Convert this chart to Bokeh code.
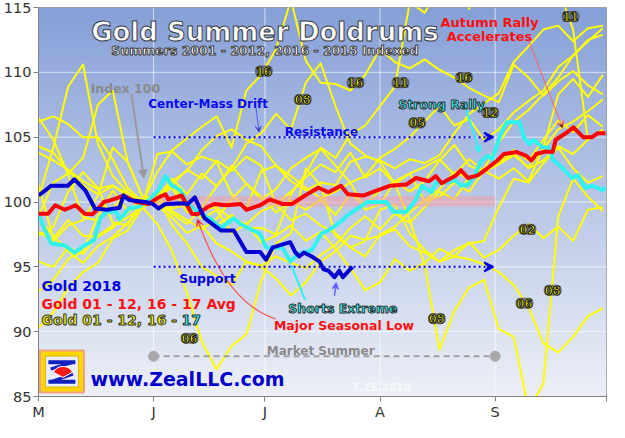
import numpy as np
from bokeh.plotting import figure
from bokeh.models import FixedTicker, Label, Arrow, VeeHead, NormalHead
from bokeh.embed import file_html
from bokeh.resources import INLINE

FONT = "DejaVu Sans"

# ---- axes (x = calendar days since May 1) ----
month_ticks = [0, 31, 61, 92, 123, 153]
month_labels = ["M", "J", "J", "A", "S", ""]
y_ticks = [85, 90, 95, 100, 105, 110, 115]
grid_x = [31, 61, 92, 123]
grid_y = [90, 95, 100, 105, 110]

# ---- yellow: individual summers, sampled every 4 days ----
yx = [0, 4, 8, 12, 16, 20, 24, 28, 32, 36, 40, 44, 48, 52, 56, 60, 64, 68, 72, 76,
      80, 84, 88, 92, 96, 100, 104, 108, 112, 116, 120, 124, 128, 132, 136, 140, 144, 148, 152]
y01 = [98.9, 101.5, 102.2, 103.4, 107.5, 108.6, 103.1, 100.4, 100.3, 101.8, 100.6, 102.2, 101.2, 102.8, 101.4, 100.4, 99.2, 100.1, 99.4, 100.2,
       99.0, 100.6, 99.8, 100.9, 101.6, 102.2, 102.7, 103.3, 102.1, 103.3, 102.4, 101.8, 102.6, 101.6, 104.2, 108.3, 109.5, 108.1, 109.8]
y02 = [95.4, 95.0, 96.5, 96.0, 97.4, 98.2, 98.8, 99.6, 100.2, 101.3, 99.8, 98.7, 99.4, 97.6, 98.3, 96.9, 97.4, 98.2, 97.0, 97.7,
       96.4, 94.9, 93.2, 93.8, 95.6, 94.7, 95.3, 96.4, 95.8, 96.9, 95.7, 96.3, 97.4, 98.3, 97.2, 98.1, 97.0, 99.4, 99.6]
y03 = [93.1, 94.0, 95.6, 96.2, 98.9, 100.9, 99.3, 100.2, 99.7, 98.8, 97.6, 98.2, 96.8, 96.2, 95.4, 95.1, 95.8, 95.3, 94.9, 95.9,
       96.7, 98.0, 98.9, 97.9, 99.1, 98.4, 99.6, 100.8, 100.2, 101.9, 102.6, 103.1, 104.0, 103.2, 104.8, 106.3, 105.4, 106.7, 105.8]
y04 = [98.7, 97.4, 96.2, 95.3, 96.6, 97.3, 98.4, 99.6, 100.1, 99.3, 98.6, 97.9, 98.7, 100.2, 101.4, 100.2, 101.0, 102.6, 103.4, 104.1,
       102.8, 101.5, 99.4, 99.8, 101.6, 100.8, 101.6, 103.2, 104.4, 102.8, 102.3, 102.9, 103.8, 102.6, 103.2, 104.3, 103.7, 104.8, 105.6]
y05 = [104.3, 103.8, 102.4, 101.3, 100.6, 101.2, 100.7, 100.2, 100.1, 101.6, 102.4, 104.0, 105.1, 105.6, 104.8, 104.3, 102.8, 102.0, 101.1, 100.3,
       100.8, 101.5, 102.0, 103.4, 104.1, 105.0, 106.2, 107.4, 105.9, 106.4, 104.8, 105.6, 106.9, 107.8, 108.6, 110.4, 111.3, 112.5, 112.9]
y06 = [100.3, 104.2, 108.9, 110.6, 104.5, 102.0, 100.8, 99.6, 98.3, 96.2, 93.0, 89.2, 87.1, 88.9, 89.8, 93.9, 96.8, 97.6, 102.6, 101.3,
       97.4, 96.5, 97.0, 99.4, 99.8, 97.6, 96.3, 95.4, 95.8, 95.6, 95.2, 94.6, 93.6, 91.9, 89.1, 88.4, 89.6, 91.2, 91.8]
y07 = [103.8, 103.2, 102.5, 101.6, 101.0, 101.3, 100.4, 100.2, 100.4, 101.1, 99.2, 99.4, 99.6, 98.7, 98.3, 99.3, 99.8, 100.8, 101.9, 102.9,
       102.3, 103.8, 101.9, 102.6, 101.4, 102.2, 100.1, 101.0, 102.3, 101.8, 102.5, 104.6, 106.2, 107.1, 108.3, 109.6, 111.3, 112.4, 113.4]
y08 = [97.7, 97.0, 98.2, 98.6, 100.5, 104.2, 103.1, 100.4, 100.0, 99.1, 98.3, 99.6, 101.2, 102.6, 104.5, 105.3, 106.8, 105.6, 109.2, 110.7,
       107.4, 104.5, 103.6, 103.1, 101.4, 98.6, 95.2, 88.6, 91.6, 93.4, 94.0, 90.2, 89.6, 84.0, 86.0, 98.9, 101.8, 100.4, 99.3]
y09 = [90.3, 91.5, 93.4, 94.6, 95.3, 97.2, 97.8, 99.6, 100.5, 98.2, 96.8, 95.0, 94.3, 93.6, 95.4, 95.0, 94.1, 92.8, 93.8, 95.4,
       96.2, 97.4, 97.1, 97.4, 97.9, 96.6, 96.1, 95.4, 96.3, 96.8, 97.0, 99.6, 101.8, 101.5, 103.0, 104.2, 102.6, 101.5, 102.0]
y10 = [97.4, 98.1, 100.8, 102.3, 101.1, 98.4, 98.2, 100.2, 100.6, 101.3, 102.5, 101.8, 103.2, 102.4, 103.5, 102.8, 99.8, 98.6, 99.1, 98.2,
       97.6, 96.5, 95.8, 97.5, 98.1, 99.2, 100.1, 100.4, 101.5, 100.8, 102.4, 102.9, 103.6, 102.7, 104.1, 105.6, 106.2, 107.0, 107.9]
y11 = [101.3, 97.2, 98.6, 97.4, 97.3, 98.0, 99.2, 100.1, 100.4, 99.5, 99.8, 99.1, 98.2, 99.0, 98.0, 98.0, 97.5, 100.6, 102.2, 104.2,
       103.4, 105.2, 105.9, 107.4, 108.9, 115.4, 114.6, 116.5, 123.0, 114.9, 119.0, 122.5, 123.6, 118.3, 117.2, 116.5, 113.3, 104.8, 105.5]
y12 = [106.5, 104.8, 102.1, 98.8, 98.6, 99.5, 100.8, 99.7, 103.7, 103.9, 102.9, 103.5, 103.1, 100.6, 99.5, 102.4, 102.8, 101.6, 100.9, 101.5,
       101.3, 103.1, 103.5, 103.2, 102.6, 103.3, 103.0, 103.6, 105.3, 106.8, 107.6, 108.4, 110.8, 112.0, 113.3, 113.6, 112.4, 113.4, 113.6]
y16 = [106.2, 106.6, 106.0, 105.0, 105.0, 103.3, 101.1, 100.0, 102.3, 104.0, 104.9, 105.8, 106.6, 104.2, 108.6, 109.8, 111.8, 115.6, 110.9, 109.2,
       109.1, 108.6, 109.8, 111.8, 110.8, 110.3, 111.0, 110.2, 109.6, 108.8, 108.2, 107.7, 110.6, 109.6, 108.2, 109.3, 110.1, 109.0, 108.3]
yellow_years = [y01, y02, y03, y04, y05, y06, y07, y08, y09, y10, y11, y12, y16]

# ---- 2017 (cyan) ----
cyan_x = [0, 1.8, 3.4, 7.1, 9.7, 12.4, 15.0, 16.6, 18.4, 21.0, 21.8, 24.4, 27.1, 29.7, 32.3, 34.2, 36.0, 38.1, 40.2, 42.8,
          46.5, 49.2, 52.6, 54.4, 57.8, 59.7, 61.3, 63.9, 65.7, 67.8, 69.7, 73.6, 76.2, 78.9, 81.5, 83.3, 86.0, 88.6, 91.2, 93.8,
          95.4, 99.1, 101.7, 103.3, 105.9, 107.0, 109.6, 112.2, 113.8, 115.7, 117.5, 119.1, 120.9, 122.2, 124.9, 126.2, 129.6, 130.7, 132.2, 133.3,
          135.9, 137.5, 138.5, 141.2, 143.8, 145.4, 147.2, 149.1, 150.6, 151.7, 152.7]
cyan_y = [99.05, 97.8, 96.8, 96.65, 96.1, 96.65, 97.05, 98.75, 99.25, 99.25, 98.65, 99.5, 99.65, 100.15, 100.9, 102.0, 101.25, 100.95, 99.85, 99.25,
          98.65, 98.0, 98.75, 98.3, 97.8, 97.55, 96.5, 96.45, 96.5, 95.4, 95.95, 96.3, 97.55, 97.95, 98.5, 99.0, 99.5, 100.0, 100.0, 100.0,
          99.25, 99.25, 100.2, 101.25, 100.75, 101.5, 101.5, 101.7, 101.25, 101.35, 102.05, 103.1, 103.55, 103.3, 105.55, 106.15, 106.15, 105.0, 104.45, 104.8,
          104.2, 104.2, 103.3, 102.6, 101.85, 102.05, 101.1, 101.25, 101.1, 100.9, 101.1]

# ---- average (red) ----
red_x = [0, 2.6, 4.5, 7.1, 10.0, 12.4, 14.5, 15.8, 17.6, 20.2, 22.9, 26.3, 29.7, 32.3, 34.2, 35.0, 38.6, 41.3, 42.8, 45.5,
         47.3, 50.7, 54.4, 56.0, 59.7, 62.3, 65.7, 68.3, 71.8, 75.4, 78.1, 81.5, 83.3, 87.5, 91.2, 94.6, 99.1, 101.7, 105.2, 107.0,
         108.6, 112.2, 113.8, 115.7, 118.3, 120.9, 123.6, 125.4, 128.8, 131.4, 132.8, 134.1, 136.7, 138.5, 139.3, 142.0, 144.1, 146.7, 149.1, 150.6, 152.7]
red_y = [99.1, 99.1, 99.75, 99.4, 99.75, 99.1, 99.05, 99.4, 100.0, 100.2, 100.5, 100.0, 99.85, 100.35, 100.6, 100.2, 100.5, 99.1, 99.05, 99.6,
         99.85, 99.75, 99.85, 99.4, 99.75, 100.2, 99.85, 99.85, 100.5, 101.1, 100.75, 101.25, 100.6, 100.5, 100.9, 101.25, 101.35, 101.85, 101.6, 102.0,
         101.45, 102.0, 102.45, 101.85, 102.05, 102.6, 103.2, 103.7, 103.85, 103.55, 103.2, 103.7, 103.9, 103.85, 104.8, 105.3, 105.75, 105.0, 105.0, 105.3, 105.3]

# ---- 2018 (blue) ----
blue_x = [0, 3.4, 7.9, 9.7, 12.6, 15.2, 18.4, 21.8, 22.9, 24.4, 28.9, 30.8, 32.3, 34.2, 38.6, 40.2, 42.1, 44.7, 49.2, 52.6,
          56.0, 59.7, 61.3, 63.1, 64.9, 67.8, 69.1, 70.2, 71.5, 73.6, 75.7, 76.8, 78.1, 79.7, 81.0, 82.0, 83.6, 84.6]
blue_y = [100.5, 101.25, 101.25, 101.75, 100.9, 99.5, 99.4, 99.55, 100.5, 100.15, 100.0, 99.85, 99.5, 99.85, 99.9, 99.85, 100.35, 98.75, 97.8, 97.8,
          96.15, 96.15, 95.55, 96.5, 96.65, 96.9, 96.15, 95.8, 96.1, 95.8, 95.4, 94.8, 94.7, 94.2, 94.7, 94.2, 94.7, 95.0]

# year tags: (day, index value, label)
year_tags = [(60.7, 110.1, "16"), (71.2, 107.9, "08"), (85.4, 109.2, "16"), (97.5, 109.2, "11"),
             (102.0, 106.1, "05"), (114.6, 109.6, "16"), (121.7, 106.9, "12"), (143.3, 114.3, "11"),
             (131.7, 97.9, "02"), (130.9, 92.2, "06"), (138.5, 93.2, "08"), (107.3, 91.0, "08"), (40.7, 89.5, "06")]

summer_start, summer_end = 31, 123

p = figure(width=609, height=422, x_range=(0, 153), y_range=(85, 115),
           output_backend="svg", toolbar_location=None,
           min_border_left=30, min_border_right=3, min_border_top=7, min_border_bottom=18,
           background_fill_color="#ffffff", border_fill_color="#ffffff")
p.outline_line_color = "#9a9a9a"
p.xgrid.grid_line_color = None
p.ygrid.grid_line_color = None

p.xaxis.ticker = FixedTicker(ticks=month_ticks, minor_ticks=[])
p.xaxis.major_label_overrides = {t: l for t, l in zip(month_ticks, month_labels)}
p.yaxis.ticker = FixedTicker(ticks=y_ticks, minor_ticks=[])
for ax in (p.xaxis[0], p.yaxis[0]):
    ax.axis_line_color = "#808080"
    ax.major_tick_line_color = "#808080"
    ax.minor_tick_line_color = None
    ax.major_tick_out = 5
    ax.major_tick_in = 0
    ax.major_label_text_font = FONT
    ax.major_label_text_font_size = "14.5px"
    ax.major_label_text_color = "#333333"
    ax.major_label_standoff = 2

# background gradient
n = 300
top = np.array([134, 160, 216], dtype=float)
bot = np.array([238, 240, 247], dtype=float)
t = np.linspace(0, 1, n)[:, None]
cols = bot * (1 - t) + top * t
img = np.empty((n, 1), dtype=np.uint32)
view = img.view(dtype=np.uint8).reshape((n, 1, 4))
view[:, 0, 0] = cols[:, 0]
view[:, 0, 1] = cols[:, 1]
view[:, 0, 2] = cols[:, 2]
view[:, 0, 3] = 255
p.image_rgba(image=[img], x=0, y=85, dw=153, dh=30)

# grid
p.segment(x0=grid_x, y0=[85] * len(grid_x), x1=grid_x, y1=[115] * len(grid_x),
          line_color="#ffffff", line_alpha=0.65, line_width=1)
p.segment(x0=[0] * len(grid_y), y0=grid_y, x1=[153] * len(grid_y), y1=grid_y,
          line_color="#ffffff", line_alpha=0.65, line_width=1)

# yellow summers
p.multi_line(xs=[yx] * len(yellow_years), ys=yellow_years, line_color="#ffff00", line_width=2, line_join="round")

# index-100 band
p.quad(left=[summer_start], right=[summer_end], bottom=[99.65], top=[100.45],
       fill_color="#f2a0a8", fill_alpha=0.55, line_color=None)

# market summer
p.line([summer_start, summer_end], [88.1, 88.1], line_color="#a0a0a0", line_width=2, line_dash="6 4")
p.scatter([summer_start, summer_end], [88.1, 88.1], size=10, color="#a8a8a8")

# support / resistance
for lvl in (105, 95):
    p.add_layout(Arrow(x_start=summer_start, y_start=lvl, x_end=summer_end - 0.5, y_end=lvl,
                       line_color="#0000ee", line_width=2, line_dash="2 3",
                       end=VeeHead(size=9, line_color="#0000ee", line_width=2)))

p.line(cyan_x, cyan_y, line_color="#30f2f2", line_width=4, line_join="round")
p.line(red_x, red_y, line_color="#ff0000", line_width=4, line_join="round")
p.line(blue_x, blue_y, line_color="#0000d0", line_width=4, line_join="round")

# annotation arrows
p.add_layout(Arrow(x_start=25.0, y_start=108.35, x_end=28.4, y_end=101.85, line_color="#9a9a9a", line_width=2,
                   end=NormalHead(size=8, fill_color="#9a9a9a", line_color="#9a9a9a")))
p.add_layout(Arrow(x_start=58.6, y_start=107.24, x_end=59.4, y_end=105.39, line_color="#5555ff", line_width=1,
                   end=VeeHead(size=6, line_color="#5555ff", line_width=1)))
p.add_layout(Arrow(x_start=132.2, y_start=112.34, x_end=141.2, y_end=105.69, line_color="#ff6060", line_width=1,
                   end=VeeHead(size=7, line_color="#ff6060", line_width=1)))
p.add_layout(Arrow(x_start=115.1, y_start=107.24, x_end=118.8, y_end=103.84, line_color="#30f2f2", line_width=2,
                   end=VeeHead(size=6, line_color="#30f2f2", line_width=2)))
p.add_layout(Arrow(x_start=71.8, y_start=92.46, x_end=68.1, y_end=95.12, line_color="#30f2f2", line_width=2, end=None))
p.add_layout(Arrow(x_start=79.7, y_start=92.76, x_end=80.2, y_end=93.75, line_color="#6666ff", line_width=1.5,
                   end=VeeHead(size=6, line_color="#6666ff", line_width=1.5)))
p.quadratic(x0=[63.9], y0=[90.98], x1=[42.8], y1=[98.67], cx=[50.7], cy=[92.16], line_color="#ff5050", line_width=1.2)
p.add_layout(Arrow(x_start=43.6, y_start=98.02, x_end=42.8, y_end=98.67, line_color="#ff5050", line_width=1.2,
                   end=VeeHead(size=7, line_color="#ff5050", line_width=1.2)))

# logo
lx, ly = 6.3, 86.92
p.rect(x=[lx], y=[ly], width=44, height=42, width_units="screen", height_units="screen",
       fill_color="#ffd600", line_color="#f0a080", line_width=2)
p.rect(x=[lx], y=[ly], width=33, height=31, width_units="screen", height_units="screen",
       fill_color="#e8eeff", line_color="#e0b000", line_width=1)
p.rect(x=[lx, lx], y=[ly + 0.72, ly - 0.78], width=27, height=4, width_units="screen", height_units="screen",
       fill_color="#1020c0", line_color=None)
p.segment(x0=[lx + 3.0, lx + 3.0], y0=[ly + 0.72, ly - 0.2], x1=[lx - 3.0, lx - 3.0], y1=[ly + 0.2, ly - 0.78],
          line_color="#1020c0", line_width=3)
p.wedge(x=[lx + 0.3], y=[ly - 0.45], radius=11, radius_units="screen", start_angle=0.5, end_angle=2.65,
        fill_color="#ff1a1a", line_color="#ffffff", line_width=1)


def label(x, y, text, size, color, outline=None, align="center", bold=True, baseline="alphabetic",
          x_offset=0, box=None):
    lab = Label(x=x, y=y, text=text, text_font=FONT, text_font_size=f"{size}px", text_color=color,
                text_align=align, text_baseline=baseline, text_font_style="bold" if bold else "normal",
                x_offset=x_offset)
    if outline:
        lab.text_outline_color = outline
    if box:
        lab.background_fill_color = box
        lab.background_fill_alpha = 0.7
        lab.padding = 1
        lab.border_radius = 5
    p.add_layout(lab)


label(61.0, 113.1, "Gold Summer Doldrums", 26, "#ffffff", "#3a3a3a")
label(61.0, 111.67, "Summers 2001 - 2012, 2016 - 2018 Indexed", 12.5, "#ffffff", "#3a3a3a")
label(121.5, 113.82, "Autumn Rally", 13, "#ff1010")
label(121.5, 112.78, "Accelerates", 13, "#ff1010")
label(23.4, 108.72, "Index 100", 12.5, "#8a8a8a")
label(45.7, 107.52, "Center-Mass Drift", 12, "#0a0af0")
label(76.2, 105.4, "Resistance", 12, "#0a0af0")
label(108.6, 107.51, "Strong Rally", 12.5, "#33ffff", "#303030")
label(45.5, 94.08, "Support", 12.5, "#0000e0")
label(82.0, 91.81, "Shorts Extreme", 12.5, "#33ffff", "#303030")
label(82.3, 90.51, "Major Seasonal Low", 12.5, "#ff1010")
label(76.0, 88.54, "Market Summer", 12, "#8a8a8a")
label(92.3, 85.75, "7.25.2018", 10.5, "#f8f9fc")
label(0.8, 93.49, "Gold 2018", 14, "#0000e8", align="left")
label(0.8, 92.11, "Gold 01 - 12, 16 - 17 Avg", 14, "#ff1010", align="left")
label(0.8, 90.88, "Gold 01 - 12, 16 - ", 14, "#ffff00", "#303030", align="left")
label(0.8, 90.88, "17", 14, "#33ffff", "#303030", align="left", x_offset=140)
label(14.0, 86.32, "www.ZealLLC.com", 19, "#0000cc", align="left")
for dx, dy, tag in year_tags:
    label(dx, dy, tag, 11.5, "#ffff00", "#111111", baseline="middle", box="#4a4a4a")

open("out.html", "w").write(file_html(p, INLINE))
